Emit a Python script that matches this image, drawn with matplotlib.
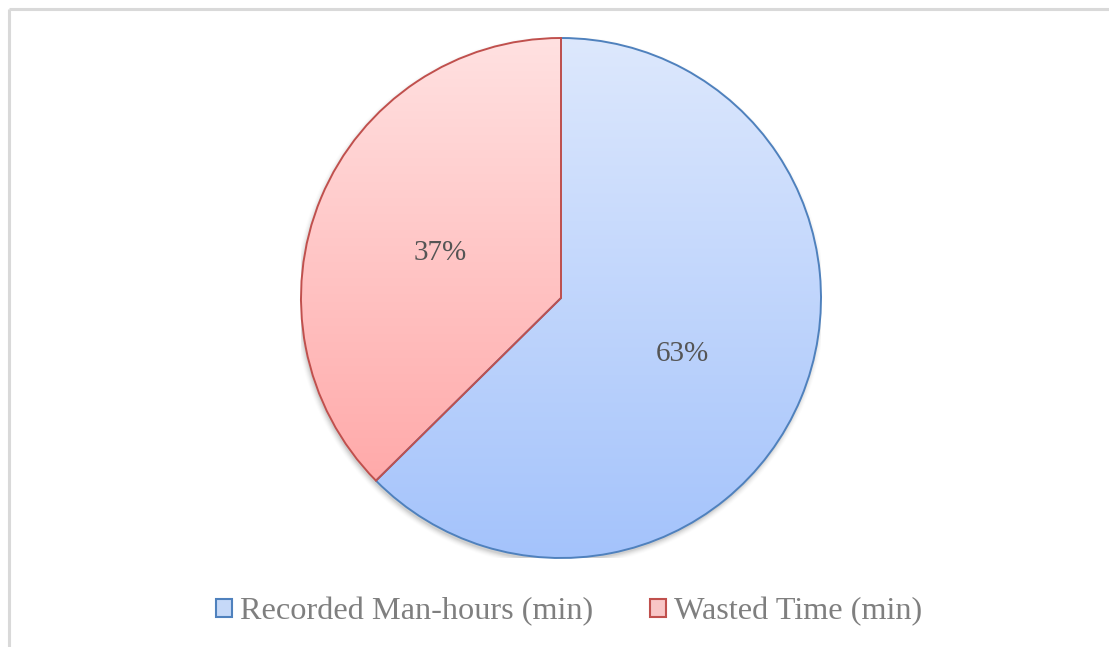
import numpy as np
import matplotlib
matplotlib.use("Agg")
import matplotlib.pyplot as plt
from matplotlib.colors import LinearSegmentedColormap
from matplotlib.patches import Circle
from matplotlib.lines import Line2D

categories = ["Recorded Man-hours (min)", "Wasted Time (min)"]
values = [62.6, 37.4]
edge_colors = ["#4F81BD", "#C0504D"]
grad_top = ["#DDE8FD", "#FFE1E1"]
grad_bottom = ["#A4C3FB", "#FFA0A0"]
legend_face = ["#C6D9F8", "#F8C6C6"]

W, H, DPI = 1109, 647, 100
fig = plt.figure(figsize=(W / DPI, H / DPI), dpi=DPI)
fig.patch.set_facecolor("white")

# chart border (light gray)
fig.add_artist(Line2D([9 / W, 1], [1 - 8.5 / H, 1 - 8.5 / H], color="#D9D9D9", lw=2.2,
                      solid_capstyle="butt"))
fig.add_artist(Line2D([8.5 / W, 8.5 / W], [0, 1 - 9 / H], color="#D9D9D9", lw=2.2,
                      solid_capstyle="butt"))

cx, cy, r = 561, 298, 260
ax = fig.add_axes([(cx - r) / W, 1 - (cy + r) / H, 2 * r / W, 2 * r / H])
ax.axis("off")

# soft shadow
for i, a in enumerate(np.linspace(0.10, 0.02, 6)):
    ax.add_patch(Circle((-0.004, -0.012), 1.0 + 0.004 * i, color="black",
                        alpha=a * 0.5, lw=0, zorder=0))

wedges, texts, autotexts = ax.pie(
    values, startangle=90, counterclock=False, radius=1.0,
    autopct="%1.0f%%", pctdistance=0.505,
    wedgeprops=dict(linewidth=1.4, facecolor="none"),
    textprops=dict(family="Liberation Serif", fontsize=21, color="#555555"),
)
for w, ec in zip(wedges, edge_colors):
    w.set_edgecolor(ec)
    w.set_zorder(3)

grad = np.linspace(0, 1, 256).reshape(-1, 1)
for w, top, bot in zip(wedges, grad_top, grad_bottom):
    cmap = LinearSegmentedColormap.from_list("g", [top, bot])
    im = ax.imshow(grad, cmap=cmap, extent=[-1, 1, -1, 1], origin="upper",
                   aspect="auto", zorder=2)
    im.set_clip_path(w)
for t in autotexts:
    t.set_zorder(5)
    x, y = t.get_position()
    t.set_position((x, y - 0.02))

ax.set_xlim(-1, 1)
ax.set_ylim(-1, 1)
ax.set_aspect("equal")

handles = [plt.Rectangle((0, 0), 1, 1, facecolor=fc, edgecolor=ec, lw=1.5)
           for fc, ec in zip(legend_face, edge_colors)]
fig.legend(handles, categories, loc="center", bbox_to_anchor=(569 / W, 1 - 612 / H),
           ncol=2, frameon=False, handlelength=0.5, handleheight=0.5,
           handletextpad=0.24, columnspacing=1.75,
           prop=dict(family="Liberation Serif", size=23.2), labelcolor="#7F7F7F")

fig.savefig("out.png", dpi=DPI, facecolor="white")
